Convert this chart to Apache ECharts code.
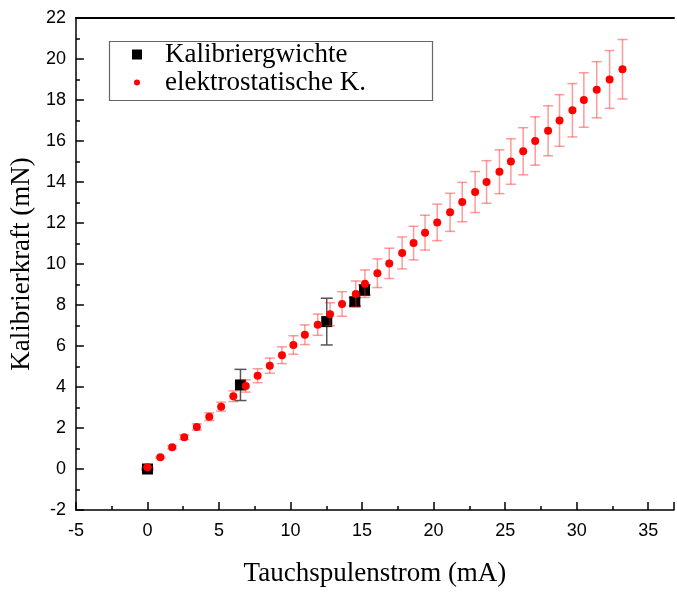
<!DOCTYPE html>
<html>
<head>
<meta charset="utf-8">
<script src="https://cdn.jsdelivr.net/npm/echarts@6/dist/echarts.min.js"></script>
<style>
  html, body { margin: 0; padding: 0; background: #fff; }
  #chart { width: 677px; height: 592px; }
</style>
</head>
<body>
<div id="chart"></div>
<script>
// calibration weights
const weightCurrent = [0, 6.5, 12.53, 14.49, 15.17]
const weightForce = [0, 4.1, 7.19, 8.16, 8.73]
const weightErr = [0.05, 0.76, 1.14, 0.2, 0.25]

// electrostatic force
const esCurrent = [0, 0.9, 1.73, 2.57, 3.45, 4.32, 5.15, 6.0, 6.87, 7.7,
  8.55, 9.4, 10.2, 11.0, 11.9, 12.76, 13.6, 14.56, 15.2, 16.07,
  16.9, 17.8, 18.6, 19.4, 20.25, 21.15, 22.0, 22.9, 23.7, 24.6,
  25.4, 26.26, 27.1, 28.0, 28.8, 29.7, 30.5, 31.4, 32.3, 33.2]
const esForce = [0.08, 0.57, 1.06, 1.55, 2.05, 2.55, 3.04, 3.55, 4.05, 4.55,
  5.04, 5.55, 6.05, 6.55, 7.04, 7.55, 8.05, 8.54, 9.04, 9.55,
  10.03, 10.54, 11.02, 11.53, 12.03, 12.52, 13.02, 13.51, 14.0, 14.5,
  15.0, 15.5, 16.0, 16.5, 17.0, 17.5, 18.0, 18.5, 19.0, 19.5]
const esErr = [0.01, 0.04, 0.08, 0.11, 0.15, 0.19, 0.22, 0.26, 0.3, 0.34,
  0.37, 0.41, 0.45, 0.48, 0.52, 0.56, 0.6, 0.63, 0.67, 0.7,
  0.74, 0.78, 0.82, 0.85, 0.89, 0.93, 0.96, 1.0, 1.04, 1.07,
  1.11, 1.15, 1.18, 1.22, 1.26, 1.3, 1.33, 1.37, 1.41, 1.45]

const xTicks = { min: -5, max: 36.8, interval: 5 }
const yTicks = { min: -2, max: 22, interval: 2 }

const serif = 'Liberation Serif'
const sans = 'Liberation Sans'

function toPoints(xs, ys, errs) {
  return xs.map((x, i) => errs ? [x, ys[i], errs[i]] : [x, ys[i]])
}

function errorBars(capHalf, color, width) {
  return function(params, api) {
    const x = api.value(0)
    const y = api.value(1)
    const e = api.value(2)
    const hi = api.coord([x, y + e])
    const lo = api.coord([x, y - e])
    const style = { stroke: color, lineWidth: width }
    return {
      type: 'group',
      children: [
        { type: 'line', shape: { x1: hi[0], y1: hi[1], x2: lo[0], y2: lo[1] }, style: style },
        { type: 'line', shape: { x1: hi[0] - capHalf, y1: hi[1], x2: hi[0] + capHalf, y2: hi[1] }, style: style },
        { type: 'line', shape: { x1: lo[0] - capHalf, y1: lo[1], x2: lo[0] + capHalf, y2: lo[1] }, style: style }
      ]
    }
  }
}

const chart = echarts.init(document.getElementById('chart'))
chart.setOption({
  animation: false,
  grid: { left: 75, right: 0, top: 18, bottom: 82 },
  xAxis: [
    {
      type: 'value',
      min: xTicks.min,
      max: xTicks.max,
      interval: xTicks.interval,
      name: 'Tauchspulenstrom (mA)',
      nameLocation: 'middle',
      nameGap: 50,
      nameTextStyle: { fontFamily: serif, fontSize: 27, color: '#000' },
      axisLine: { onZero: false, lineStyle: { color: '#000', width: 1.5 } },
      axisTick: { inside: true, length: 8, lineStyle: { color: '#000', width: 1.5 } },
      minorTick: { show: true, splitNumber: 2, length: 4, lineStyle: { color: '#000', width: 1.5 } },
      axisLabel: {
        fontFamily: sans, fontSize: 18, color: '#000', margin: 12,
        formatter: v => (v % 5 === 0 ? String(v) : '')
      },
      splitLine: { show: false }
    },
    {
      type: 'value',
      position: 'top',
      min: xTicks.min,
      max: xTicks.max,
      axisLine: { show: true, onZero: false, lineStyle: { color: '#000', width: 2 } },
      axisTick: { show: false },
      axisLabel: { show: false },
      splitLine: { show: false }
    }
  ],
  yAxis: {
    type: 'value',
    min: yTicks.min,
    max: yTicks.max,
    interval: yTicks.interval,
    name: 'Kalibrierkraft (mN)',
    nameLocation: 'middle',
    nameGap: 29,
    nameTextStyle: { fontFamily: serif, fontSize: 27, color: '#000' },
    axisLine: { show: true, onZero: false, lineStyle: { color: '#000', width: 1.5 } },
    axisTick: { inside: true, length: 8, lineStyle: { color: '#000', width: 1.5 } },
    minorTick: { show: true, splitNumber: 2, length: 4, lineStyle: { color: '#000', width: 1.5 } },
    axisLabel: { fontFamily: sans, fontSize: 18, color: '#000', margin: 10 },
    splitLine: { show: false }
  },
  legend: [
    {
      data: ['Kalibriergwichte'],
      left: 132,
      top: 41,
      padding: 0,
      itemWidth: 10,
      itemHeight: 10,
      textStyle: { fontFamily: serif, fontSize: 27, color: '#000', padding: [0, 0, 0, 18] }
    },
    {
      data: ['elektrostatische K.'],
      left: 134,
      top: 69,
      padding: 0,
      itemWidth: 6,
      itemHeight: 6,
      textStyle: { fontFamily: serif, fontSize: 27, color: '#000', padding: [0, 0, 0, 20] }
    }
  ],
  graphic: [
    {
      type: 'rect',
      left: 107,
      top: 39,
      shape: { width: 323, height: 59 },
      style: { fill: 'none', stroke: '#666', lineWidth: 1.2 },
      z: 10
    }
  ],
  series: [
    {
      name: 'weightErr',
      type: 'custom',
      renderItem: errorBars(6, '#555', 1.5),
      encode: { x: 0, y: 1 },
      data: toPoints(weightCurrent, weightForce, weightErr),
      z: 1
    },
    {
      name: 'Kalibriergwichte',
      type: 'scatter',
      symbol: 'rect',
      symbolSize: 11,
      itemStyle: { color: '#000', opacity: 1 },
      data: toPoints(weightCurrent, weightForce),
      z: 2
    },
    {
      name: 'esErr',
      type: 'custom',
      renderItem: errorBars(5, 'rgba(255,30,30,0.45)', 1.5),
      encode: { x: 0, y: 1 },
      data: toPoints(esCurrent, esForce, esErr),
      z: 3
    },
    {
      name: 'elektrostatische K.',
      type: 'scatter',
      symbol: 'circle',
      symbolSize: 8,
      itemStyle: { color: '#ff0000', opacity: 1 },
      data: toPoints(esCurrent, esForce),
      z: 4
    }
  ]
})
</script>
</body>
</html>
